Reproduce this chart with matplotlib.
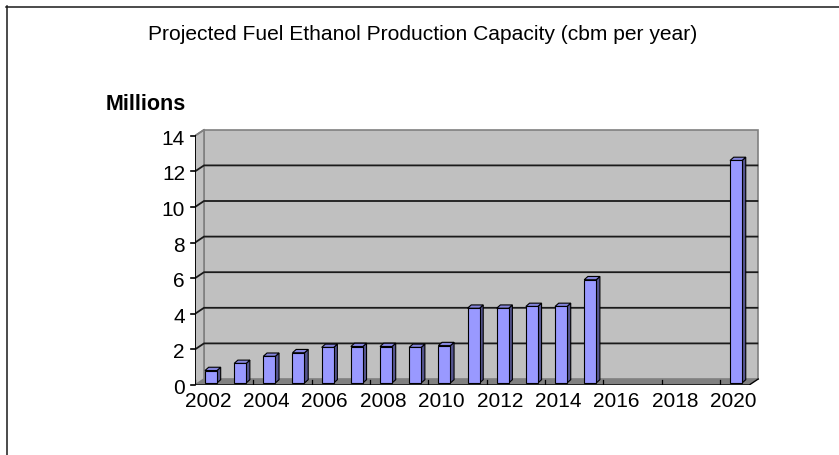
import matplotlib
matplotlib.use('Agg')
import matplotlib.pyplot as plt
import matplotlib.transforms as mtransforms
from matplotlib.patches import Polygon

# data (millions of cbm per year)
years = list(range(2002, 2021))
capacity = [0.7, 1.1, 1.5, 1.7, 2.0, 2.05, 2.05, 2.0, 2.1,
            4.2, 4.2, 4.3, 4.3, 5.8, None, None, None, None, 12.5]
y_ticks = [0, 2, 4, 6, 8, 10, 12, 14]
x_tick_labels = [str(y) for y in years[::2]]

plt.rcParams['font.family'] = ['Liberation Sans', 'DejaVu Sans']

W, H = 839, 455
fig = plt.figure(figsize=(W / 100, H / 100), dpi=100)

# front plane of the 3d box, in pixels
x0_px, y0_px = 195, 385
slot_px, unit_px = 29.17, 17.8
top_px, right_px = 125, 762
ax = fig.add_axes([x0_px / W, (H - y0_px) / H,
                   (right_px - x0_px) / W, (y0_px - top_px) / H])
ax.set_xlim(-0.5, -0.5 + (right_px - x0_px) / slot_px)
ax.set_ylim(0, (y0_px - top_px) / unit_px)
ax.axis('off')

n = len(years)
xl, xr = -0.5, n - 0.5
ymax = y_ticks[-1]
dx, dy = 9 / slot_px, 6 / unit_px          # depth of the box
wall = '#c0c0c0'
edge = '#808080'

# back wall and side wall
ax.add_patch(Polygon([(xl + dx, dy), (xr + dx, dy), (xr + dx, ymax + dy), (xl + dx, ymax + dy)],
                     closed=True, fc=wall, ec=edge, lw=1.2, zorder=0))
ax.add_patch(Polygon([(xl, 0), (xl + dx, dy), (xl + dx, ymax + dy), (xl, ymax)],
                     closed=True, fc=wall, ec=edge, lw=1.2, zorder=0))

# gridlines on side wall + back wall
for v in y_ticks[1:-1]:
    ax.plot([xl, xl + dx, xr + dx], [v, v + dy, v + dy], color='#1a1a1a', lw=1.3, zorder=1,
            solid_capstyle='butt')
ax.plot([xl, xl + dx], [ymax, ymax + dy], color=edge, lw=1.2, zorder=1)

# floor
ax.add_patch(Polygon([(xl, 0), (xr, 0), (xr + dx, dy), (xl + dx, dy)],
                     closed=True, fc='#808080', ec='none', zorder=2))
ax.plot([xl, xr, xr + dx], [0, 0, dy], color='black', lw=1.0, zorder=2.5)
for k in range(0, n + 1, 2):
    ax.plot([xl + k, xl + k], [-0.05, dy * 0.9], color='black', lw=0.9, zorder=2.5)

# bars
w = 12 / slot_px
bx, by = 1.4 / slot_px, 2 / unit_px
ddx, ddy = 3.7 / slot_px, 3.3 / unit_px
for i, v in enumerate(capacity):
    if v is None:
        continue
    a = i - w / 2 + bx
    b = i + w / 2 + bx
    y1, y2 = by, by + v
    ax.add_patch(Polygon([(b, y1), (b + ddx, y1 + ddy), (b + ddx, y2 + ddy), (b, y2)],
                         closed=True, fc='#55558f', ec='black', lw=0.8, zorder=3))
    ax.add_patch(Polygon([(a, y2), (b, y2), (b + ddx, y2 + ddy), (a + ddx, y2 + ddy)],
                         closed=True, fc='#8585dd', ec='black', lw=0.8, zorder=3))
    ax.add_patch(Polygon([(a, y1), (b, y1), (b, y2), (a, y2)],
                         closed=True, fc='#9999ff', ec='black', lw=0.8, zorder=4))

# value axis
ax.plot([xl, xl], [0, ymax], color='black', lw=1.3, zorder=5)
lab_off = mtransforms.ScaledTranslation(-10 / 100, -3.5 / 100, fig.dpi_scale_trans)
for v in y_ticks:
    ax.plot([xl - 4 / slot_px, xl], [v, v], color='black', lw=1.2, zorder=5, clip_on=False)
    ax.text(xl, v, str(v), ha='right', va='center', fontsize=15,
            transform=ax.transData + lab_off, clip_on=False)

cat_off = mtransforms.ScaledTranslation(-1.5 / 100, -7 / 100, fig.dpi_scale_trans)
for k, lab in enumerate(x_tick_labels):
    ax.text(2 * k, 0, lab, ha='center', va='top', fontsize=15,
            transform=ax.transData + cat_off, clip_on=False)

fig.text(423 / W, 1 - 35 / H, 'Projected Fuel Ethanol Production Capacity (cbm per year)',
         ha='center', va='center', fontsize=15.1)
fig.text(106 / W, 1 - 104 / H, 'Millions', ha='left', va='center', fontsize=15.5,
         fontweight='bold')

# chart area border (top and left only visible)
fig.add_artist(plt.Line2D([6 / W, 1], [1 - 6.5 / H, 1 - 6.5 / H], color='#1a1a1a', lw=1.1,
                          transform=fig.transFigure))
fig.add_artist(plt.Line2D([6.5 / W, 6.5 / W], [0, 1 - 6 / H], color='#1a1a1a', lw=1.1,
                          transform=fig.transFigure))

fig.savefig('out.png', dpi=100)
